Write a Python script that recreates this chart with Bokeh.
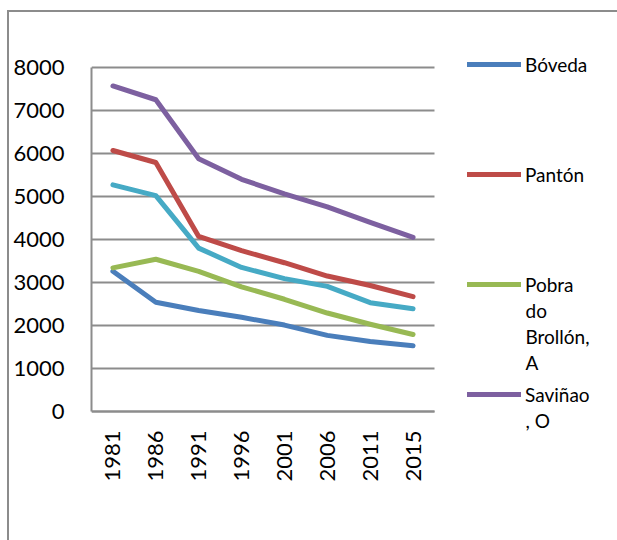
from math import pi
from bokeh.plotting import figure
from bokeh.models import (Legend, LegendItem, Range1d, FixedTicker, Label)
from bokeh.embed import file_html
from bokeh.resources import INLINE

years = ["1981", "1986", "1991", "1996", "2001", "2006", "2011", "2015"]
boveda = [3260, 2540, 2350, 2190, 2010, 1770, 1630, 1530]
panton = [6070, 5790, 4070, 3740, 3460, 3150, 2930, 2670]
pobra = [3340, 3540, 3260, 2900, 2610, 2290, 2030, 1790]
savinao = [7570, 7250, 5880, 5400, 5060, 4760, 4400, 4050]
serie5 = [5270, 5020, 3800, 3350, 3090, 2910, 2530, 2390]
y_ticks = [0, 1000, 2000, 3000, 4000, 5000, 6000, 7000, 8000]
legend_names = ["Bóveda", "Pantón", "Pobra", "Saviñao"]
legend_more = [[], [], ["do", "Brollón,", "A"], [", O"]]

FONT = "Lato"
GRID = "#8c8c8c"

# pixel layout of the plot area (canvas coordinates)
W, H = 617, 540
PL, PR, PT, PB = 91, 434, 67, 411          # plot area: left, right, top(8000), bottom(0)
FL, FR, FT, FB = 91, 607, 30, 530          # frame
idx = list(range(len(years)))
xpp = (PR - PL) / len(years)               # px per category
ypp = (PB - PT) / y_ticks[-1]              # px per unit
x0 = -0.5
x1 = -0.5 + (FR - FL) / xpp
y0 = -(FB - PB) / ypp
y1 = y_ticks[-1] + (PT - FT) / ypp


def dx(px):
    return -0.5 + (px - FL) / xpp


def dy(py):
    return (PB - py) / ypp


p = figure(width=W, height=H, output_backend="svg", toolbar_location=None,
           x_range=Range1d(x0, x1), y_range=Range1d(y0, y1),
           min_border_left=FL, min_border_right=W - FR, min_border_top=FT,
           min_border_bottom=H - FB)
p.outline_line_color = None
p.background_fill_color = "white"
p.border_fill_color = None
p.styles = {"box-shadow": "inset 7px 10px 0 0 white, inset 9px 12px 0 0 #8c8c8c"}

p.xgrid.visible = False
p.ygrid.ticker = FixedTicker(ticks=y_ticks)
p.ygrid.grid_line_color = GRID
p.ygrid.grid_line_width = 2
try:
    p.ygrid.cross_bounds = (-0.5, len(years) - 0.5)
except Exception:
    p.ygrid.visible = False
    p.segment(x0=[-0.5] * len(y_ticks), x1=[len(years) - 0.5] * len(y_ticks),
              y0=y_ticks, y1=y_ticks, line_color=GRID, line_width=2)

p.yaxis.ticker = FixedTicker(ticks=y_ticks)
p.yaxis.bounds = (0, y_ticks[-1])
p.xaxis.ticker = FixedTicker(ticks=idx)
p.xaxis.major_label_overrides = {i: y for i, y in zip(idx, years)}
p.xaxis.bounds = (-0.5, len(years) - 0.5)
p.xaxis.fixed_location = 0

for ax in (p.xaxis, p.yaxis):
    ax.axis_line_color = GRID
    ax.axis_line_width = 2
    ax.major_tick_line_color = None
    ax.minor_tick_line_color = None
    ax.major_tick_out = 0
    ax.major_tick_in = 0
    ax.major_label_text_font = FONT
    ax.major_label_text_font_size = "22px"
    ax.major_label_text_color = "black"
p.yaxis.major_label_standoff = 27
p.xaxis.major_label_standoff = 19
p.xaxis.major_label_orientation = pi / 2

colors = ["#4a7ebb", "#be4b48", "#98b954", "#7d60a0"]
series = [boveda, panton, pobra, savinao]
items = []
p.line(idx, serie5, line_color="#46aac5", line_width=5, line_cap="round", line_join="round")
for vals, col, lab in zip(series, colors, legend_names):
    r = p.line(idx, vals, line_color=col, line_width=5, line_cap="round", line_join="round")
    items.append(LegendItem(label=lab, renderers=[r]))

# legend: first item centred at y=64, pitch 110 px, glyph from x=467
item_h, pitch = 24, 110
leg_h = 4 * item_h + 3 * (pitch - item_h)
leg_top = 64 - item_h / 2
legend = Legend(items=items, location=(467 - FL, FB - (leg_top + leg_h)),
                glyph_width=54, glyph_height=item_h, label_height=item_h,
                label_standoff=4, spacing=pitch - item_h, padding=0, margin=0,
                border_line_color=None, background_fill_alpha=0,
                label_text_font=FONT, label_text_font_size="19px",
                label_text_color="black")
p.add_layout(legend, "center")

cont_y = {2: [310, 336, 362], 3: [420]}
for k, lines in enumerate(legend_more):
    for t, py in zip(lines, cont_y.get(k, [])):
        p.add_layout(Label(x=dx(525), y=dy(py), text=t, text_font=FONT,
                           text_font_size="19px", text_color="black",
                           text_baseline="middle", text_align="left"))

open("out.html", "w").write(file_html(p, INLINE))
